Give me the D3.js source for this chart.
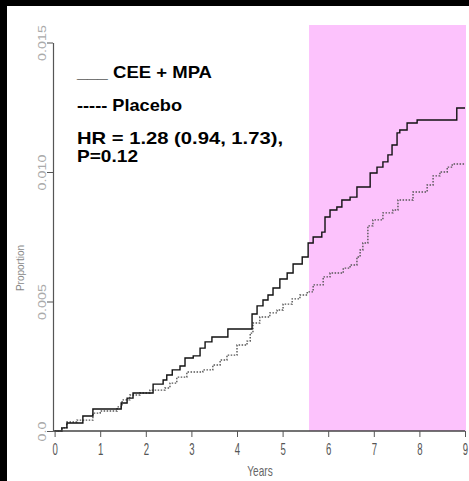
<!DOCTYPE html>
<html>
<head>
<meta charset="utf-8">
<script src="https://cdn.jsdelivr.net/npm/d3@7"></script>
<style>
  body { margin: 0; background: #000; }
  svg { display: block; }
</style>
</head>
<body>
<svg id="chart" width="469" height="481"></svg>
<script>
// step points: years, cumulative proportion
const ceeYears = [0, 0.16, 0.27, 0.62, 0.84, 1.46, 1.59, 1.72, 2.16, 2.38, 2.46, 2.58, 2.75, 2.86, 3.04, 3.19, 3.30, 3.45, 3.80,
  4.33, 4.44, 4.57, 4.68, 4.79, 4.94, 5.10, 5.23, 5.43, 5.56, 5.67, 5.86, 5.93, 6.04, 6.19, 6.30, 6.48, 6.63, 6.92, 7.07,
  7.20, 7.31, 7.40, 7.51, 7.57, 7.73, 7.95, 8.82, 9.0];
const ceeValues = [0, 0.00012, 0.00031, 0.00058, 0.00085, 0.00108, 0.00127, 0.00147, 0.00181, 0.00197, 0.00216, 0.00236,
  0.00251, 0.00282, 0.00290, 0.00320, 0.00344, 0.00363, 0.00394, 0.00452, 0.00483, 0.00506, 0.00525, 0.00552, 0.00587,
  0.00610, 0.00645, 0.00672, 0.00726, 0.00749, 0.00768, 0.00826, 0.00853, 0.00865, 0.00892, 0.00903, 0.00942, 0.00996,
  0.01019, 0.01039, 0.01066, 0.01104, 0.01151, 0.01162, 0.01189, 0.01201, 0.01247, 0.01247];

const placeboYears = [0, 0.16, 0.27, 0.49, 0.84, 1.0, 1.37, 1.48, 1.65, 1.87, 2.09, 2.42, 2.53, 2.68, 2.90, 3.25, 3.47, 3.63,
  3.78, 4.00, 4.22, 4.29, 4.35, 4.50, 4.72, 4.88, 5.01, 5.21, 5.38, 5.54, 5.67, 5.89, 6.04, 6.33, 6.48, 6.63, 6.70, 6.76,
  6.87, 6.98, 7.20, 7.42, 7.53, 7.86, 8.17, 8.30, 8.45, 8.61, 8.72, 9.0];
const placeboValues = [0, 0.00012, 0.00035, 0.00042, 0.00069, 0.00077, 0.00093, 0.00120, 0.00139, 0.00147, 0.00158,
  0.00166, 0.00185, 0.00208, 0.00228, 0.00236, 0.00255, 0.00274, 0.00293, 0.00332, 0.00347, 0.00378, 0.00417, 0.00440,
  0.00456, 0.00467, 0.00490, 0.00510, 0.00525, 0.00537, 0.00564, 0.00595, 0.00610, 0.00629, 0.00641, 0.00672, 0.00699,
  0.00726, 0.00792, 0.00815, 0.00842, 0.00853, 0.00892, 0.00923, 0.00950, 0.00985, 0.01000, 0.01019, 0.01031, 0.01031];

const xTicks = [0, 1, 2, 3, 4, 5, 6, 7, 8, 9];
const yTicks = [0, 0.005, 0.010, 0.015];
const yTickLabels = ["0.0", "0.005", "0.010", "0.015"];
const shadeFrom = 5.58, shadeTo = 9;

const legendLines = ["___ CEE + MPA", "----- Placebo", "HR = 1.28 (0.94, 1.73),", "P=0.12"];

const svg = d3.select("#chart");

// white plotting paper, black strip at top and left
svg.append("rect").attr("x", 7).attr("y", 6).attr("width", 462).attr("height", 475).attr("fill", "#fff");

const x = d3.scaleLinear().domain([0, 9]).range([54.6, 465]);
const y = d3.scaleLinear().domain([0, 0.015]).range([431, 42.5]);

// shaded period
svg.append("rect")
  .attr("x", x(shadeFrom))
  .attr("y", 25)
  .attr("width", x(shadeTo) - x(shadeFrom) + 1)
  .attr("height", y(0) - 25)
  .attr("fill", "#fcc2fc");

// curves
const line = d3.line().x(d => x(d[0])).y(d => y(d[1])).curve(d3.curveStepAfter);

svg.append("path")
  .datum(placeboYears.map((t, i) => [t, placeboValues[i]]))
  .attr("d", line)
  .attr("fill", "none")
  .attr("stroke", "#555")
  .attr("stroke-width", 1.4)
  .attr("stroke-dasharray", "1.5,1.5");

svg.append("path")
  .datum(ceeYears.map((t, i) => [t, ceeValues[i]]))
  .attr("d", line)
  .attr("fill", "none")
  .attr("stroke", "#111")
  .attr("stroke-width", 1.4);

// x axis
const xAxis = svg.append("g")
  .attr("transform", `translate(0,${y(0)})`)
  .call(d3.axisBottom(x).tickValues(xTicks).tickFormat(d3.format("d")).tickSize(6).tickSizeOuter(0));
xAxis.select(".domain").attr("stroke", "#444").attr("stroke-width", 1.5).attr("d", `M${x(0) - 1.5},0H${x(9)}`);
xAxis.selectAll(".tick line").attr("stroke", "#555");
xAxis.selectAll(".tick text")
  .attr("fill", "#555")
  .attr("font-family", "Liberation Sans, Arial, sans-serif")
  .attr("font-size", 16)
  .attr("y", 0)
  .attr("dy", 0)
  .attr("transform", "translate(0,24) scale(0.6,1)");

// y axis
const yAxis = svg.append("g")
  .attr("transform", "translate(53,0)")
  .call(d3.axisLeft(y).tickValues(yTicks).tickFormat((d, i) => yTickLabels[i]).tickSize(6).tickSizeOuter(0));
yAxis.select(".domain").attr("stroke", "#555").attr("stroke-width", 1.2);
yAxis.selectAll(".tick line").attr("stroke", "#555");
yAxis.selectAll(".tick text")
  .attr("fill", "#aaa")
  .attr("font-family", "Liberation Sans, Arial, sans-serif")
  .attr("font-size", 11)
  .attr("x", 0)
  .attr("dy", 0)
  .attr("text-anchor", "middle")
  .attr("transform", "translate(-7,0) rotate(-90) scale(1.3,1)");

// axis titles
svg.append("text")
  .attr("transform", "translate(260,476) scale(0.72,1)")
  .attr("text-anchor", "middle")
  .attr("font-family", "Liberation Sans, Arial, sans-serif")
  .attr("font-size", 14)
  .attr("fill", "#666")
  .text("Years");

svg.append("text")
  .attr("transform", "translate(24,268) rotate(-90)")
  .attr("text-anchor", "middle")
  .attr("font-family", "Liberation Sans, Arial, sans-serif")
  .attr("font-size", 10)
  .attr("fill", "#888")
  .text("Proportion");

// legend text block
const legendY = [78, 111, 144, 162];
const legendW = [135, 105, 206, 61];
svg.append("g").selectAll("text")
  .data(legendLines)
  .join("text")
  .attr("x", 77)
  .attr("y", (d, i) => legendY[i])
  .attr("font-family", "Liberation Sans, Arial, sans-serif")
  .attr("font-weight", "bold")
  .attr("font-size", 17)
  .attr("fill", "#000")
  .attr("textLength", (d, i) => legendW[i])
  .attr("lengthAdjust", "spacingAndGlyphs")
  .text(d => d);
</script>
</body>
</html>
